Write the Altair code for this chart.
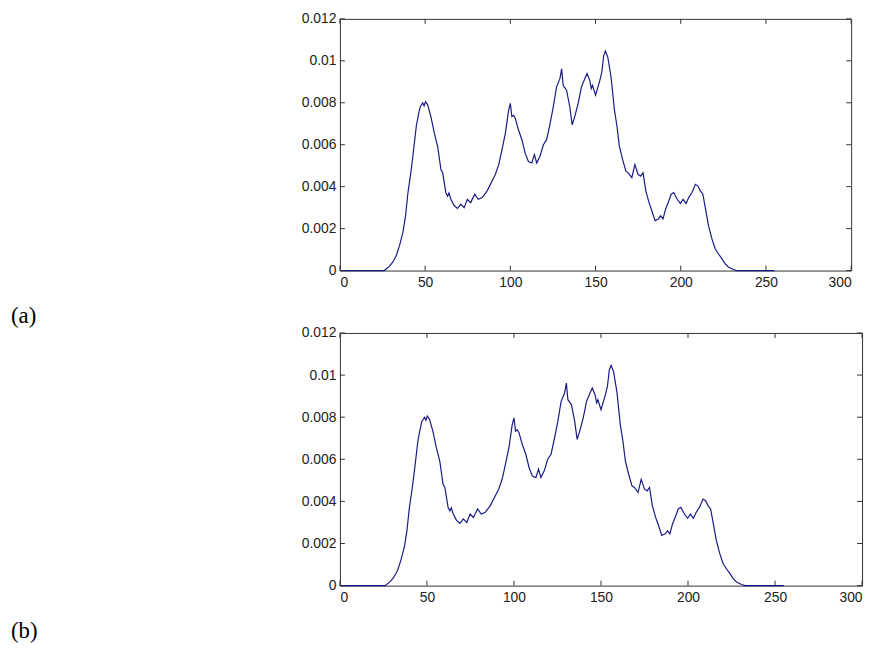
import altair as alt
import pandas as pd

# Histogram-like curve (same for both panels)
x_vals = [0, 26, 29, 31, 33.1, 35, 37, 38.5, 39.9, 41.5, 42.8, 44.8, 46, 47.1, 48.6, 49.4,
          50.2, 51.5, 53.5, 55.4, 57.4, 59.3, 60.3, 62.2, 63.2, 64, 65.1, 67, 69, 70.9,
          72.9, 74.8, 76.7, 79.1, 81.2, 83.5, 86.4, 89.3, 91.2, 93.2, 95.1, 97.1, 99, 100,
          100.9, 101.9, 102.9, 104.8, 106.8, 108.7, 110.6, 112.6, 114.1, 115.5, 117.4,
          119.4, 121.3, 123.3, 125.2, 127.1, 129.1, 130.1, 131, 133, 134.9, 136.3, 137.8,
          139.8, 141.7, 143.7, 145, 146.6, 147.5, 148.2, 150, 152.3, 153.7, 154.8, 155.8,
          157.2, 159.1, 161.1, 162.6, 164, 165.9, 167.8, 169.2, 171.3, 173.1, 175, 176.5,
          177.9, 179.5, 181.4, 183.4, 184.9, 186.9, 188.2, 189.6, 191.1, 193, 194.4, 195.9,
          197.9, 199.8, 201.4, 203.1, 204.7, 206.6, 208.6, 210.1, 211.5, 213, 214.4, 216.3,
          218.3, 220.2, 222.1, 224.1, 226, 227.9, 230.8, 232.8, 255]
y_vals = [0, 0, 0.0002, 0.0004, 0.00072, 0.0012, 0.00183, 0.0026, 0.0037, 0.0046, 0.00545,
          0.00687, 0.0074, 0.0078, 0.0080, 0.00785, 0.00805, 0.0079, 0.0073, 0.00655, 0.0059,
          0.0048, 0.00466, 0.0037, 0.00355, 0.0037, 0.0034, 0.0031, 0.00296, 0.00317, 0.0030,
          0.0034, 0.00324, 0.00364, 0.0034, 0.00348, 0.0038, 0.00427, 0.00458, 0.00505,
          0.00576, 0.00655, 0.00765, 0.00797, 0.00734, 0.0074, 0.00726, 0.0067, 0.00624,
          0.0056, 0.0052, 0.00513, 0.00553, 0.00513, 0.00545, 0.0060, 0.00624, 0.0070, 0.0078,
          0.00875, 0.00915, 0.00962, 0.00883, 0.0086, 0.0078, 0.00695, 0.00734, 0.00797,
          0.00875, 0.00915, 0.00939, 0.00907, 0.00868, 0.00883, 0.00836, 0.0090, 0.00946,
          0.01025, 0.01046, 0.01017, 0.00923, 0.00765, 0.00687, 0.00592, 0.00529, 0.00474,
          0.00466, 0.00443, 0.00505, 0.00458, 0.0045, 0.00466, 0.0038, 0.00324, 0.00277,
          0.00238, 0.00246, 0.00261, 0.00246, 0.00293, 0.00332, 0.00364, 0.00372, 0.0034,
          0.0032, 0.0034, 0.0032, 0.00348, 0.00372, 0.00411, 0.00403, 0.0038, 0.00364, 0.0030,
          0.00214, 0.00151, 0.00104, 0.0008, 0.00057, 0.00033, 0.00017, 0.00005, 0, 0]

x_ticks = [0, 50, 100, 150, 200, 250, 300]
y_ticks = [0, 0.002, 0.004, 0.006, 0.008, 0.010, 0.012]
panel_labels = ["(a)", "(b)"]

curve = pd.DataFrame({"x": x_vals, "y": y_vals})
xt = pd.DataFrame({"t": x_ticks})
yt = pd.DataFrame({"v": y_ticks})

LINE = "#1a1a85"
TICK = "#333333"
xscale = alt.Scale(domain=[0, 300], nice=False)
yscale = alt.Scale(domain=[0, 0.012], nice=False)
xaxis = alt.Axis(values=x_ticks, format="d", tickSize=0, labelPadding=5,
                 domain=False, grid=False, title=None)
yaxis = alt.Axis(values=y_ticks, format="~g", tickSize=0, labelPadding=4,
                 domain=False, grid=False, title=None)


def panel(label, w, h):
    line = alt.Chart(curve).mark_line(color=LINE, strokeWidth=1.2).encode(
        x=alt.X("x:Q", scale=xscale, axis=xaxis),
        y=alt.Y("y:Q", scale=yscale, axis=yaxis),
    )
    xb = alt.Chart(xt).mark_rule(color=TICK, strokeWidth=1).encode(
        x=alt.X("t:Q", scale=xscale, axis=xaxis), y=alt.value(h), y2=alt.value(h - 5))
    xtop = alt.Chart(xt).mark_rule(color=TICK, strokeWidth=1).encode(
        x=alt.X("t:Q", scale=xscale, axis=xaxis), y=alt.value(0), y2=alt.value(5))
    yl = alt.Chart(yt).mark_rule(color=TICK, strokeWidth=1).encode(
        y=alt.Y("v:Q", scale=yscale, axis=yaxis), x=alt.value(0), x2=alt.value(5))
    yr = alt.Chart(yt).mark_rule(color=TICK, strokeWidth=1).encode(
        y=alt.Y("v:Q", scale=yscale, axis=yaxis), x=alt.value(w), x2=alt.value(w - 5))
    txt = alt.Chart(pd.DataFrame({"lab": [label]})).mark_text(
        font="Liberation Serif", fontSize=23, align="left", baseline="middle", color="black"
    ).encode(text="lab:N", x=alt.value(-332), y=alt.value(h + 46))
    return alt.layer(line, xb, xtop, yl, yr, txt).properties(width=w, height=h)


chart = alt.vconcat(
    panel(panel_labels[0], 516, 254),
    panel(panel_labels[1], 527, 255),
    spacing=63, bounds="flush"
).properties(
    padding={"left": 2, "top": 0, "right": 5, "bottom": 5}
).configure_view(
    stroke="#333333", strokeWidth=1
).configure_axis(
    labelFont="Liberation Sans", labelFontSize=14, labelColor="#222222"
)

chart.save("out.html", embed_options={"renderer": "svg", "actions": False})
